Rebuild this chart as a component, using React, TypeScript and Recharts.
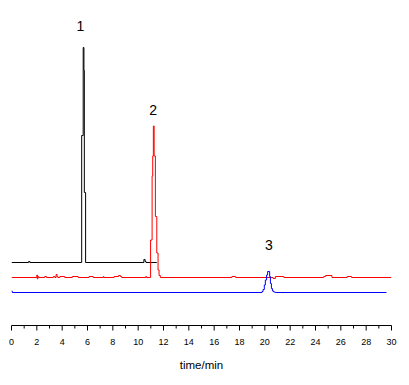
import React from 'react';
import { LineChart, Line, XAxis, YAxis, ReferenceDot } from 'recharts';

const FONT = '"Liberation Sans", Arial, sans-serif';

// retention time (min) vs detector signal (offset per trace), step-sampled
const blackTrace: number[][] = [
  [0, 63], [1.35, 64], [1.45, 63],
  [5.54, 190], [5.66, 278], [5.72, 255], [5.75, 133], [5.85, 63],
  [10.45, 66], [10.55, 64], [10.62, 63],
  [11.47, 63],
];

const redTrace: number[][] = [
  [0, 48],
  [2.0, 50.5], [2.04, 46.5], [2.08, 49], [2.14, 48],
  [2.62, 49], [2.76, 48],
  [3.3, 49], [3.42, 48],
  [3.52, 51], [3.6, 49], [3.66, 48],
  [3.82, 49], [4.2, 48],
  [4.8, 49], [5.26, 48],
  [6.12, 49], [6.45, 48],
  [7.25, 49], [7.3, 48],
  [8.1, 49], [8.45, 50], [8.6, 49], [8.7, 48],
  [10.6, 49], [10.66, 48],
  [10.98, 85.5], [11.1, 149.5], [11.15, 169.5], [11.2, 199.5], [11.26, 169.5],
  [11.36, 109], [11.47, 72.5], [11.57, 55.5], [11.65, 50], [11.75, 48],
  [17.4, 49], [17.7, 48],
  [20.65, 47], [20.83, 49], [21.5, 48],
  [24.65, 49], [24.8, 50], [25.3, 48],
  [26.5, 49], [26.85, 48],
  [30, 48],
];

const blueTrace: number[][] = [
  [0, 34.5], [0.06, 33],
  [19.78, 34], [19.86, 36], [19.96, 40.5], [20.04, 45.5], [20.14, 50.5], [20.22, 54],
  [20.38, 49], [20.44, 42], [20.52, 37], [20.6, 34.5], [20.7, 33.5], [20.83, 33],
  [29.6, 33],
];

const peakNames = ['1', '2', '3'];
const peakTimes = [5.43, 11.19, 20.33];
const peakLabelLevels = [299.3, 215.2, 80.9];

const xTicks = Array.from({ length: 31 }, (_, i) => i);

const toRows = (pairs: number[][]) => pairs.map(([t, v]) => ({ t, v }));

const TimeTick = (props: any) => {
  const { x, y, payload } = props;
  const major = payload.value % 2 === 0;
  return (
    <g>
      <line x1={x} x2={x} y1={y} y2={y + (major ? 5 : 3)} stroke="#000" strokeWidth={1} />
      {major && (
        <text x={x} y={y + 19} textAnchor="middle" fontSize={9} fill="#000" fontFamily={FONT}>
          {payload.value}
        </text>
      )}
    </g>
  );
};

export default function App() {
  return (
    <div style={{ position: 'absolute', left: 0, top: 0, width: 409, height: 385, background: '#fff' }}>
      <LineChart width={409} height={385} margin={{ top: 25.5, right: 17.5, bottom: 0, left: 11.5 }}>
        <XAxis
          dataKey="t"
          type="number"
          domain={[0, 30]}
          ticks={xTicks}
          interval={0}
          allowDataOverflow
          tick={<TimeTick />}
          tickLine={false}
          tickSize={0}
          tickMargin={0}
          axisLine={{ stroke: '#000' }}
          height={59.5}
          label={{ value: 'time/min', position: 'insideBottom', offset: 16, fontSize: 11.5, fill: '#000', fontFamily: FONT }}
        />
        <YAxis hide type="number" domain={[0, 300]} allowDataOverflow />
        <Line data={toRows(blackTrace)} dataKey="v" type="stepAfter" stroke="#000000" strokeWidth={1} dot={false} isAnimationActive={false} />
        <Line data={toRows(redTrace)} dataKey="v" type="stepAfter" stroke="#ff0000" strokeWidth={1} dot={false} isAnimationActive={false} />
        <Line data={toRows(blueTrace)} dataKey="v" type="stepAfter" stroke="#0000ff" strokeWidth={1} dot={false} isAnimationActive={false} />
        {peakNames.map((name, i) => (
          <ReferenceDot
            key={name}
            x={peakTimes[i]}
            y={peakLabelLevels[i]}
            r={0}
            fill="none"
            stroke="none"
            label={{ value: name, position: 'center', fontSize: 14, fill: '#000', fontFamily: FONT }}
          />
        ))}
      </LineChart>
    </div>
  );
}
